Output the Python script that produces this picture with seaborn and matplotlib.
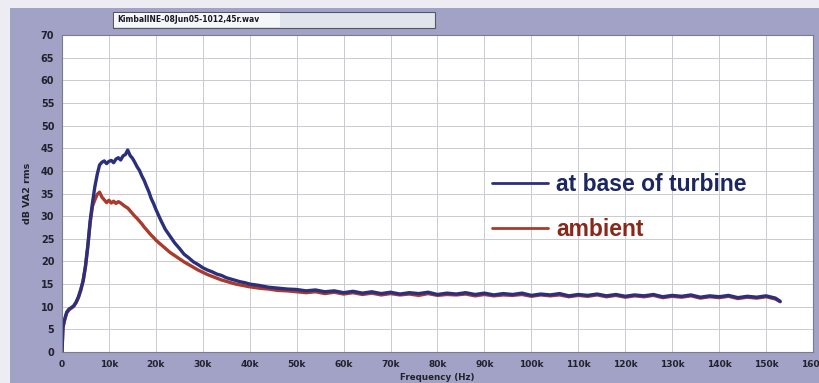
import matplotlib
matplotlib.use("Agg")
import matplotlib.pyplot as plt
import matplotlib.patches as mpatches
import numpy as np
import pandas as pd
import seaborn as sns

# Frequency axis of the spectrum (kHz)
freq_khz = [
    0, 0.2, 0.5, 1, 1.5, 2, 2.5, 3, 3.5, 4, 4.5, 5, 5.5, 6, 6.5, 7, 7.5, 8, 8.5, 9,
    9.5, 10, 10.5, 11, 11.5, 12, 12.5, 13, 13.5, 14, 14.5, 15, 15.5, 16, 16.5, 17,
    17.5, 18, 18.5, 19, 19.5, 20, 21, 22, 23, 24, 25, 26, 27, 28, 29, 30, 31, 32,
    33, 34, 35, 36, 37, 38, 39, 40, 42, 44, 46, 48, 50, 52, 54, 56, 58, 60, 62, 64,
    66, 68, 70, 72, 74, 76, 78, 80, 82, 84, 86, 88, 90, 92, 94, 96, 98, 100, 102,
    104, 106, 108, 110, 112, 114, 116, 118, 120, 122, 124, 126, 128, 130, 132, 134,
    136, 138, 140, 142, 144, 146, 148, 150, 152, 153,
]

# Level measured at the base of the turbine (dB VA2 rms)
turbine_db = [
    0.0, 5.5, 7.0, 8.8, 9.5, 9.8, 10.2, 11.0, 12.2, 13.8, 15.8, 19.0, 23.5, 29.0,
    33.0, 36.5, 39.2, 41.3, 41.9, 42.2, 41.6, 42.1, 42.3, 41.8, 42.6, 42.9, 42.4,
    43.3, 43.6, 44.6, 43.4, 42.8, 41.9, 40.9, 40.1, 38.9, 37.9, 36.6, 35.4, 33.9,
    32.8, 31.5, 29.2, 27.1, 25.6, 24.1, 22.9, 21.6, 20.8, 19.9, 19.3, 18.6, 18.1,
    17.7, 17.2, 16.9, 16.4, 16.1, 15.8, 15.5, 15.3, 15.0, 14.7, 14.3, 14.1, 13.9,
    13.8, 13.5, 13.7, 13.3, 13.5, 13.1, 13.4, 13.0, 13.3, 12.9, 13.2, 12.8, 13.1,
    12.9, 13.2, 12.7, 13.0, 12.8, 13.1, 12.7, 13.0, 12.6, 12.9, 12.7, 13.0, 12.5,
    12.8, 12.6, 12.9, 12.4, 12.7, 12.5, 12.8, 12.4, 12.7, 12.3, 12.6, 12.4, 12.7,
    12.2, 12.5, 12.3, 12.6, 12.1, 12.4, 12.2, 12.5, 12.0, 12.3, 12.1, 12.4, 11.9,
    11.2,
]

# Ambient background level (dB VA2 rms)
ambient_db = [
    0.0, 5.3, 6.8, 8.6, 9.3, 9.7, 10.1, 10.9, 12.0, 13.6, 15.6, 18.8, 23.2, 28.5,
    32.2, 33.6, 34.8, 35.3, 34.2, 33.6, 33.0, 33.5, 32.9, 33.3, 32.8, 33.2, 32.9,
    32.5, 32.1, 31.8, 31.2, 30.6, 30.0, 29.5, 28.9, 28.3, 27.6, 27.0, 26.4, 25.8,
    25.3, 24.7, 23.8, 22.9, 22.0, 21.3, 20.6, 19.9, 19.3, 18.7, 18.1, 17.6, 17.1,
    16.7, 16.3, 15.9, 15.6, 15.3, 15.0, 14.8, 14.6, 14.4, 14.1, 13.9, 13.6, 13.5,
    13.3, 13.1, 13.3, 12.9, 13.2, 12.8, 13.1, 12.7, 13.0, 12.6, 12.9, 12.6, 12.8,
    12.5, 12.9, 12.5, 12.7, 12.6, 12.8, 12.4, 12.7, 12.4, 12.6, 12.5, 12.7, 12.3,
    12.6, 12.4, 12.6, 12.2, 12.5, 12.3, 12.6, 12.2, 12.5, 12.1, 12.4, 12.2, 12.5,
    12.0, 12.3, 12.1, 12.4, 11.9, 12.2, 12.0, 12.3, 11.8, 12.1, 11.9, 12.2, 11.7,
    11.1,
]

series_names = ["ambient", "at base of turbine"]
series_colors = {"ambient": "#aa3b2c", "at base of turbine": "#2b2f7c"}
label_colors = ["#1c2760", "#8a281a"]

x_ticks = np.arange(0, 160001, 10000)
x_tick_labels = ["0"] + [f"{k}k" for k in range(10, 161, 10)]
y_ticks = np.arange(0, 71, 5)

freq_hz = np.array(freq_khz) * 1000.0
df = pd.concat([
    pd.DataFrame({"freq": freq_hz, "level": ambient_db, "source": "ambient"}),
    pd.DataFrame({"freq": freq_hz, "level": turbine_db, "source": "at base of turbine"}),
], ignore_index=True)

sns.set_style("white")
plt.rcParams["font.family"] = ["DejaVu Sans"]

panel = "#a1a2c5"
fig = plt.figure(figsize=(8.19, 3.83), dpi=100, facecolor="#ececf2")
bg = mpatches.Rectangle((10 / 819, 0), 1 - 10 / 819, 1 - 8 / 383,
                        transform=fig.transFigure, facecolor=panel,
                        edgecolor="none", zorder=-10)
fig.add_artist(bg)

ax = fig.add_axes([62 / 819, 1 - 352 / 383, 751 / 819, 317 / 383])
ax.set_zorder(1)
ax.set_facecolor("white")

sns.lineplot(data=df, x="freq", y="level", hue="source", hue_order=series_names,
             palette=series_colors, linewidth=2.4, ax=ax, legend=True,
             estimator=None, sort=False)

ax.set_xlim(0, 160000)
ax.set_ylim(0, 70)
ax.set_xticks(x_ticks)
ax.set_xticklabels(x_tick_labels)
ax.set_yticks(y_ticks)
ax.grid(True, color="#cacad2", linewidth=0.7)
ax.set_axisbelow(True)
ax.tick_params(axis="both", direction="out", length=4, width=0.8, color="#333344",
               labelcolor="#22222e", pad=1.5)
ax.tick_params(axis="x", labelsize=6.5)
ax.tick_params(axis="y", labelsize=7)
for lbl in ax.get_xticklabels() + ax.get_yticklabels():
    lbl.set_fontweight("bold")
for side, sp in ax.spines.items():
    sp.set_color("#7a7a90")
    sp.set_linewidth(0.8)

ax.set_xlabel("Frequency (Hz)", fontsize=6.3, fontweight="bold", color="#22222e")
ax.xaxis.set_label_coords(0.5, -0.065)
ax.set_ylabel("dB VA2 rms", fontsize=6.8, fontweight="bold", color="#22222e")
ax.yaxis.set_label_coords(-0.04, 0.5)

# Legend: turbine first, then ambient, with coloured labels
handles, labels = ax.get_legend_handles_labels()
order = [labels.index("at base of turbine"), labels.index("ambient")]
leg = ax.legend([handles[i] for i in order], [labels[i] for i in order],
                loc="upper left", bbox_to_anchor=(492 / 819, 1 - 173 / 383),
                bbox_transform=fig.transFigure, frameon=False,
                prop={"family": "Liberation Sans", "size": 16.5, "weight": "bold"},
                labelcolor=label_colors, handlelength=2.45, handletextpad=0.35,
                labelspacing=0.97, borderpad=0, borderaxespad=0)
for h in leg.get_lines():
    h.set_linewidth(2.0)

# File name box above the plot
fig.add_artist(mpatches.Rectangle((113 / 819, 1 - 28 / 383), 322 / 819, 16 / 383,
                                  transform=fig.transFigure, facecolor="#dfe5ea",
                                  edgecolor="#555566", linewidth=0.8, zorder=1))
fig.add_artist(mpatches.Rectangle((114 / 819, 1 - 27 / 383), 166 / 819, 14 / 383,
                                  transform=fig.transFigure, facecolor="#f4f6f8",
                                  edgecolor="none", zorder=1))
fig.text(117 / 819, 1 - 20 / 383, "KimballNE-08Jun05-1012,45r.wav", fontsize=5.5,
         fontweight="bold", color="#1a1a26", va="center", ha="left", zorder=2)

fig.savefig("out.png", dpi=100, facecolor=fig.get_facecolor())
